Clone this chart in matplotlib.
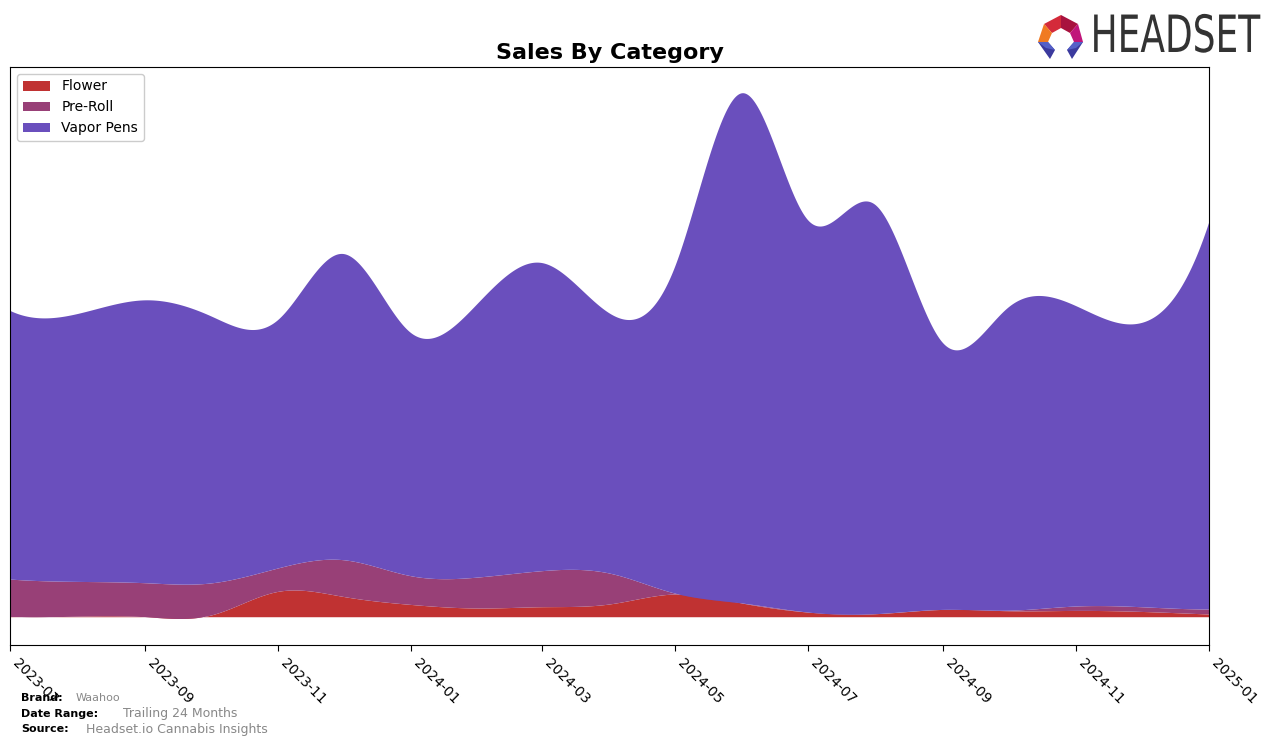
import numpy as np
import pandas as pd
import matplotlib
matplotlib.use("Agg")
import matplotlib.pyplot as plt
import matplotlib.dates as mdates
from matplotlib.patches import Polygon
from matplotlib import patheffects
from matplotlib.transforms import Affine2D

# ---- data (monthly sales, arbitrary units) ----
months = ["2023-07", "2023-08", "2023-09", "2023-10", "2023-11", "2023-12",
          "2024-01", "2024-02", "2024-03", "2024-04", "2024-05", "2024-06",
          "2024-07", "2024-08", "2024-09", "2024-10", "2024-11", "2024-12",
          "2025-01"]
flower = [0.3, 0.5, 0.0, 1.5, 25.3, 20.3, 12.3, 8.7, 10.0, 12.7, 22.7, 13.7,
          4.7, 3.0, 7.3, 6.0, 6.3, 5.3, 2.7]
pre_roll = [37.4, 34.8, 34.0, 32.2, 23.4, 36.7, 28.7, 31.0, 36.0, 31.0, 1.0, 0.0,
            0.0, 0.0, 0.0, 0.5, 4.4, 4.7, 5.0]
vapor_pens = [268.6, 267.7, 282.7, 267.3, 248.3, 306.0, 243.0, 274.6, 308.0, 260.0,
              326.0, 510.0, 392.3, 409.0, 266.7, 303.0, 300.3, 284.0, 386.3]
categories = ["Flower", "Pre-Roll", "Vapor Pens"]
colors = ["#c03232", "#984077", "#6a4fbd"]
tick_labels = ["2023-07", "2023-09", "2023-11", "2024-01", "2024-03", "2024-05",
               "2024-07", "2024-09", "2024-11", "2025-01"]


def cubic_spline(x, y, xs):
    """Not-a-knot cubic spline evaluated at xs (rendering smoothing only)."""
    x = np.asarray(x, float)
    y = np.asarray(y, float)
    n = len(x)
    h = np.diff(x)
    A = np.zeros((n, n))
    r = np.zeros(n)
    A[0, 0] = h[1]
    A[0, 1] = -(h[0] + h[1])
    A[0, 2] = h[0]
    A[-1, -3] = h[-1]
    A[-1, -2] = -(h[-2] + h[-1])
    A[-1, -1] = h[-2]
    for i in range(1, n - 1):
        A[i, i - 1] = h[i - 1]
        A[i, i] = 2 * (h[i - 1] + h[i])
        A[i, i + 1] = h[i]
        r[i] = 6 * ((y[i + 1] - y[i]) / h[i] - (y[i] - y[i - 1]) / h[i - 1])
    M = np.linalg.solve(A, r)
    idx = np.clip(np.searchsorted(x, xs) - 1, 0, n - 2)
    t = xs - x[idx]
    hi = h[idx]
    b = (y[idx + 1] - y[idx]) / hi - hi * (2 * M[idx] + M[idx + 1]) / 6
    return y[idx] + b * t + M[idx] / 2 * t ** 2 + (M[idx + 1] - M[idx]) / (6 * hi) * t ** 3


class Squeeze(patheffects.AbstractPathEffect):
    """Horizontally condense rendered text around a display x anchor."""
    def __init__(self, sx, x0):
        super().__init__()
        self.sx = sx
        self.x0 = x0

    def draw_path(self, renderer, gc, tpath, affine, rgbFace=None):
        aff = affine + Affine2D().translate(-self.x0, 0).scale(self.sx, 1).translate(self.x0, 0)
        renderer.draw_path(gc, tpath, aff, rgbFace)


dates = pd.to_datetime(months)
xnum = mdates.date2num(dates)
xs = np.linspace(xnum[0], xnum[-1], 1500)
series = [cubic_spline(xnum, s, xs) for s in (flower, pre_roll, vapor_pens)]

W, H = 1276, 746
fig = plt.figure(figsize=(W / 100, H / 100), dpi=100)
ax = fig.add_axes([10 / W, 1 - 645 / H, (1209 - 10) / W, (645 - 67) / H])

ax.stackplot(mdates.num2date(xs), *series, labels=categories, colors=colors,
             alpha=1.0, linewidth=0)
total = np.sum(series, axis=0)
mx = total.max()
ax.set_ylim(-0.053 * mx, 1.05 * mx)
ax.set_xlim(dates[0], dates[-1])
ax.set_yticks([])
tick_dates = pd.to_datetime(tick_labels)
ax.set_xticks(tick_dates)
ax.set_xticklabels(tick_labels, rotation=-45, ha="left", fontsize=10)
ax.tick_params(axis="x", length=4, pad=4)
ax.set_title("Sales By Category", fontsize=16, fontweight="bold", pad=6)
ax.legend(loc="upper left", fontsize=10, framealpha=1, borderpad=0.4,
          bbox_to_anchor=(0.0, 1.0))

# footer
fig.text(21 / W, 1 - 698 / H, "Brand:", fontsize=8, fontweight="bold", va="center")
fig.text(76 / W, 1 - 698 / H, "Waahoo", fontsize=8, color="#888888", va="center")
fig.text(21 / W, 1 - 714 / H, "Date Range:", fontsize=8, fontweight="bold", va="center")
fig.text(123 / W, 1 - 714 / H, "Trailing 24 Months", fontsize=9, color="#888888", va="center")
fig.text(21 / W, 1 - 729 / H, "Source:", fontsize=8, fontweight="bold", va="center")
fig.text(86 / W, 1 - 729 / H, "Headset.io Cannabis Insights", fontsize=9, color="#888888", va="center")

# logo
def P(px, py):
    return (px / W, 1 - py / H)

logo_polys = [
    ([(1044, 24), (1061, 15), (1061, 28), (1052, 33)], "#d42a3a"),
    ([(1061, 15), (1078, 24), (1070, 33), (1061, 28)], "#a8123e"),
    ([(1078, 24), (1083, 42), (1074, 42), (1070, 33)], "#c0157a"),
    ([(1044, 24), (1052, 33), (1048, 42), (1038, 42)], "#f07a22"),
    ([(1038, 42), (1048, 42), (1055, 50), (1050, 59)], "#3b3a9e"),
    ([(1083, 42), (1074, 42), (1067, 50), (1072, 59)], "#3b3a9e"),
    ([(1038, 42), (1048, 42), (1055, 50), (1046, 48)], "#5560c8"),
    ([(1083, 42), (1074, 42), (1067, 50), (1076, 48)], "#5560c8"),
]
for pts, c in logo_polys:
    fig.patches.append(Polygon([P(*p) for p in pts], closed=True, facecolor=c,
                               edgecolor="none", transform=fig.transFigure))
x_right = 1260
fig.text(x_right / W, 1 - 38 / H, "HEADSET", fontsize=37, color="#333333", va="center",
         ha="right", family="DejaVu Sans",
         path_effects=[Squeeze(0.70, x_right)])

fig.savefig("out.png", dpi=100)
